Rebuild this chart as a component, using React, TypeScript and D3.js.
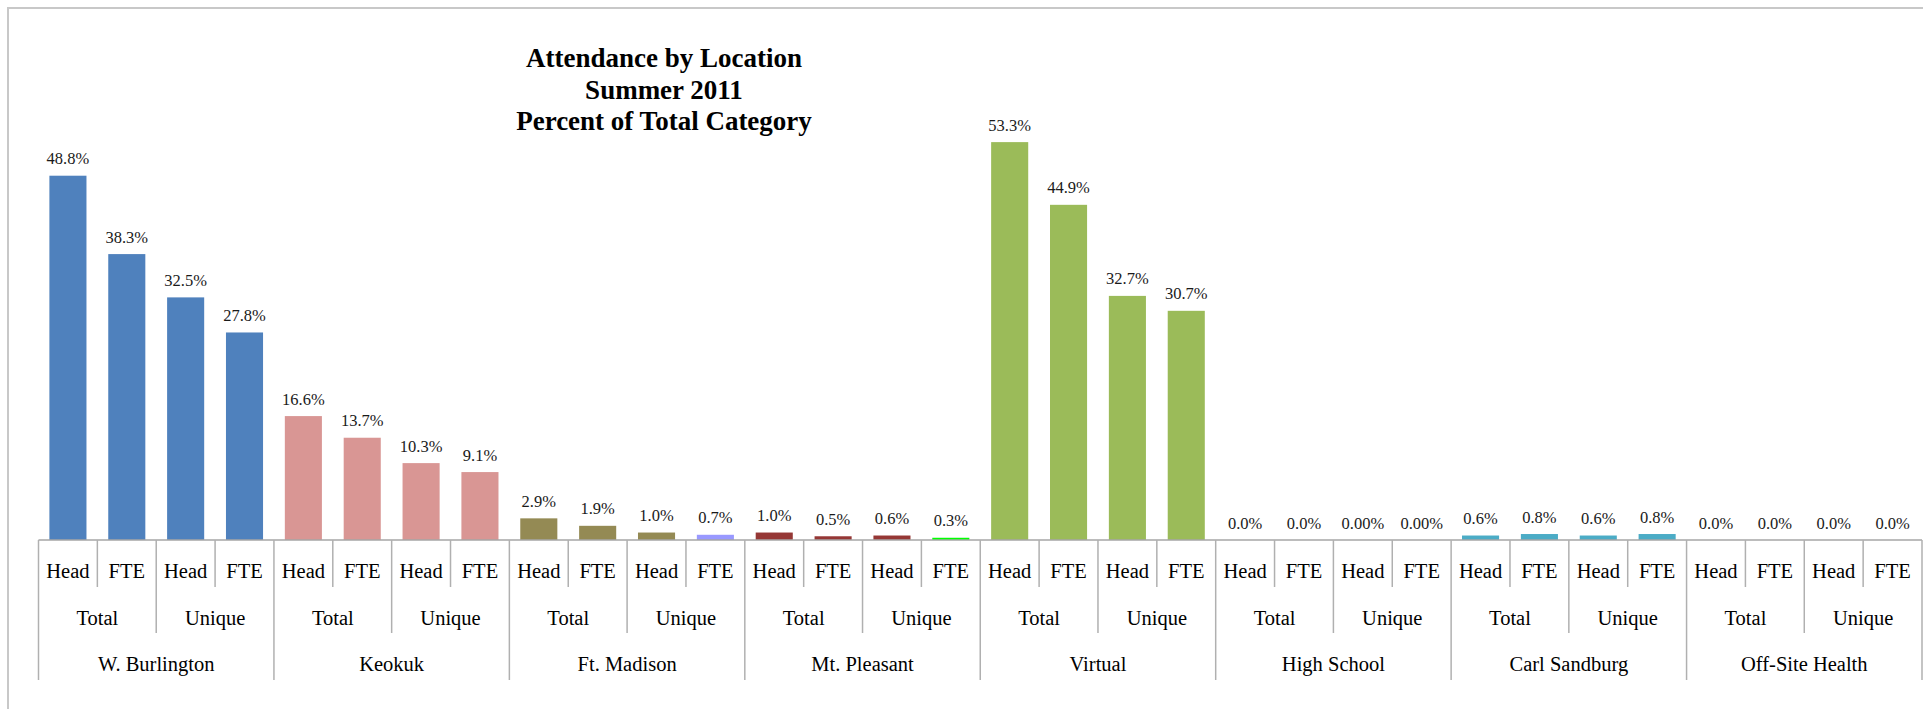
import React from 'react';
import * as d3 from 'd3';

// locations, measure groups and bar types
const locations = ['W. Burlington', 'Keokuk', 'Ft. Madison', 'Mt. Pleasant', 'Virtual', 'High School', 'Carl Sandburg', 'Off-Site Health'];
const groups = ['Total', 'Unique'];
const kinds = ['Head', 'FTE'];

// percent of total category, 4 bars per location (Total Head, Total FTE, Unique Head, Unique FTE)
const burlington = [48.8, 38.3, 32.5, 27.8];
const keokuk = [16.6, 13.7, 10.3, 9.1];
const ftMadison = [2.9, 1.9, 1.0, 0.7];
const mtPleasant = [1.0, 0.5, 0.6, 0.3];
const virtual = [53.3, 44.9, 32.7, 30.7];
const highSchool = [0, 0, 0, 0];
const sandburg = [0.6, 0.8, 0.6, 0.8];
const offSite = [0, 0, 0, 0];
const values = [burlington, keokuk, ftMadison, mtPleasant, virtual, highSchool, sandburg, offSite];

// labels as printed on the chart
const labels = [
  ['48.8%', '38.3%', '32.5%', '27.8%'],
  ['16.6%', '13.7%', '10.3%', '9.1%'],
  ['2.9%', '1.9%', '1.0%', '0.7%'],
  ['1.0%', '0.5%', '0.6%', '0.3%'],
  ['53.3%', '44.9%', '32.7%', '30.7%'],
  ['0.0%', '0.0%', '0.00%', '0.00%'],
  ['0.6%', '0.8%', '0.6%', '0.8%'],
  ['0.0%', '0.0%', '0.0%', '0.0%'],
];

const titleLines = ['Attendance by Location', 'Summer 2011', 'Percent of Total Category'];

const locColors = ['#4F81BD', '#D99694', '#948A54', '#953735', '#9BBB59', '#4BACC6', '#4BACC6', '#4BACC6'];
// a couple of bars have their own colour
const oddColors: Record<string, string> = { '2-3': '#9999FF', '3-3': '#00FF00' };

const W = 1923;
const H = 709;
const base = 540;
const font = '"Liberation Serif", "Times New Roman", serif';

export default function App() {
  const bars = values.flatMap((arr, li) =>
    arr.map((v, bi) => ({
      key: `${li}-${bi}`,
      loc: li,
      v,
      label: labels[li][bi],
      color: oddColors[`${li}-${bi}`] || locColors[li],
    }))
  );

  const x = d3
    .scaleBand<string>()
    .domain(bars.map(d => d.key))
    .range([38.5, 1922])
    .paddingInner(0.37)
    .paddingOuter(0.185);
  const step = x.step();
  const x0 = 38.5;

  const y = d3.scaleLinear().domain([0, 60]).range([base, base - 60 * 7.465]);

  const ticks = d3.range(bars.length + 1);

  return (
    <svg
      width={W}
      height={H}
      style={{ position: 'fixed', left: 0, top: 0, background: '#fff', fontFamily: font }}
    >
      {/* chart border */}
      <path d={`M8,${H} V8 H${W}`} fill="none" stroke="#c8c8c8" strokeWidth={2} />

      {titleLines.map((t, i) => (
        <text key={t} x={664} y={67 + i * 31.5} textAnchor="middle" fontSize={27} fontWeight="bold" fill="#000">
          {t}
        </text>
      ))}

      {bars.map(d => (
        <g key={d.key}>
          {d.v > 0 && (
            <rect x={x(d.key)} y={y(d.v)} width={x.bandwidth()} height={base - y(d.v)} fill={d.color} />
          )}
          <text
            x={(x(d.key) || 0) + x.bandwidth() / 2}
            y={y(d.v) - 11.5}
            textAnchor="middle"
            fontSize={16.5}
            fill="#1a1a1a"
          >
            {d.label}
          </text>
        </g>
      ))}

      {/* axis line */}
      <line x1={x0} x2={x0 + step * bars.length} y1={base} y2={base} stroke="#a6a6a6" strokeWidth={1.5} />

      {ticks.map(i => {
        const len = i % 4 === 0 ? 140 : i % 2 === 0 ? 93 : 47;
        return (
          <line
            key={i}
            x1={x0 + i * step}
            x2={x0 + i * step}
            y1={base}
            y2={base + len}
            stroke="#b0b0b0"
            strokeWidth={1.5}
          />
        );
      })}

      {bars.map((d, i) => (
        <text key={'k' + d.key} x={x0 + (i + 0.5) * step} y={578} textAnchor="middle" fontSize={20.5} fill="#000">
          {kinds[i % 2]}
        </text>
      ))}

      {d3.range(locations.length * 2).map(i => (
        <text key={'g' + i} x={x0 + (i + 0.5) * step * 2} y={625} textAnchor="middle" fontSize={20.5} fill="#000">
          {groups[i % 2]}
        </text>
      ))}

      {locations.map((l, i) => (
        <text key={l} x={x0 + (i + 0.5) * step * 4} y={671} textAnchor="middle" fontSize={20.5} fill="#000">
          {l}
        </text>
      ))}
    </svg>
  );
}
